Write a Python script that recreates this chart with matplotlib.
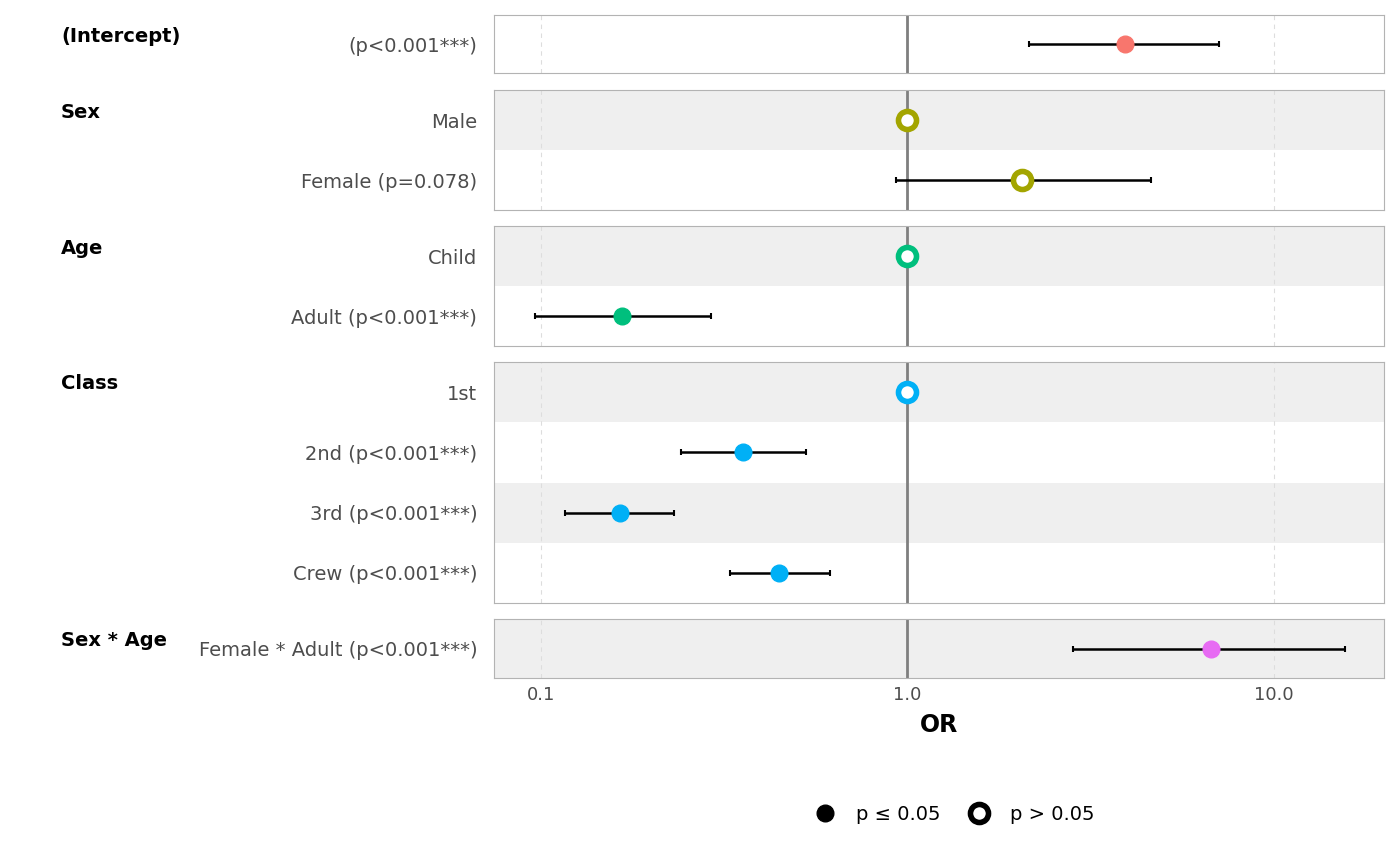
import numpy as np
import matplotlib.pyplot as plt
from matplotlib.lines import Line2D

groups = ["(Intercept)", "Sex", "Age", "Class", "Sex * Age"]
labels = [["(p<0.001***)"],
          ["Male", "Female (p=0.078)"],
          ["Child", "Adult (p<0.001***)"],
          ["1st", "2nd (p<0.001***)", "3rd (p<0.001***)", "Crew (p<0.001***)"],
          ["Female * Adult (p<0.001***)"]]
est = [[3.92], [1.0, 2.05], [1.0, 0.166], [1.0, 0.356, 0.164, 0.447], [6.73]]
lo = [[2.15], [None, 0.933], [None, 0.0964], [None, 0.241, 0.116, 0.328], [2.84]]
hi = [[7.08], [None, 4.61], [None, 0.291], [None, 0.530, 0.231, 0.616], [15.7]]
signif = [[True], [False, False], [False, True], [False, True, True, True], [True]]
colors = ["#F8766D", "#A3A500", "#00BF7D", "#00B0F6", "#E76BF3"]

W, H = 1400, 866
fig = plt.figure(figsize=(W / 100, H / 100), dpi=100)
panels_px = [(15, 73), (90, 210), (226, 346), (362, 603), (619, 678)]
x0, x1 = 494, 1384

row = 0
for gi, (top, bot) in enumerate(panels_px):
    ax = fig.add_axes([x0 / W, 1 - bot / H, (x1 - x0) / W, (bot - top) / H])
    n = len(labels[gi])
    ax.set_xscale("log")
    ax.set_xlim(0.0744, 20.0)
    ax.set_ylim(n - 0.5, -0.5)
    for i in range(n):
        if (row + i) % 2 == 1:
            ax.axhspan(i - 0.5, i + 0.5, color="#EFEFEF", zorder=0, lw=0)
    for xv in (0.1, 10):
        ax.axvline(xv, color="#DDDDDD", ls=(0, (4, 4)), lw=0.8, zorder=1)
    ax.axvline(1, color="#7F7F7F", lw=2, zorder=2)
    for i in range(n):
        if lo[gi][i] is not None:
            ax.errorbar(est[gi][i], i, xerr=[[est[gi][i] - lo[gi][i]], [hi[gi][i] - est[gi][i]]],
                        fmt="none", ecolor="black", elinewidth=1.8, capsize=2.5, capthick=1.5, zorder=3)
        if signif[gi][i]:
            ax.plot(est[gi][i], i, "o", ms=12, color=colors[gi], mec=colors[gi], zorder=4)
        else:
            ax.plot(est[gi][i], i, "o", ms=13, mfc="white", mec=colors[gi], mew=4, zorder=4)
    ax.set_yticks(range(n))
    ax.set_yticklabels(labels[gi], fontsize=14, color="#4D4D4D")
    ax.tick_params(axis="y", length=0, pad=12)
    for s in ax.spines.values():
        s.set_color("#B3B3B3")
    if gi < len(panels_px) - 1:
        ax.set_xticks([])
        ax.minorticks_off()
    else:
        ax.set_xticks([0.1, 1, 10])
        ax.set_xticklabels(["0.1", "1.0", "10.0"], fontsize=13, color="#4D4D4D")
        ax.minorticks_off()
        ax.tick_params(axis="x", length=0, pad=6)
        ax.set_xlabel("OR", fontsize=17, fontweight="bold", labelpad=6)
    ax.set_yticks([], minor=True)
    fig.text(61 / W, 1 - (top + 22) / H, groups[gi], fontsize=14, fontweight="bold", va="center", ha="left")
    row += n

handles = [Line2D([], [], marker="o", ls="none", ms=12, color="black"),
           Line2D([], [], marker="o", ls="none", ms=13, mfc="white", mec="black", mew=4)]
fig.legend(handles, ["p ≤ 0.05", "p > 0.05"], loc="center", bbox_to_anchor=(950 / W, 1 - 814 / H),
           ncol=2, frameon=False, fontsize=14, handletextpad=0.6, columnspacing=1.0)
fig.savefig("out.png", dpi=100)
